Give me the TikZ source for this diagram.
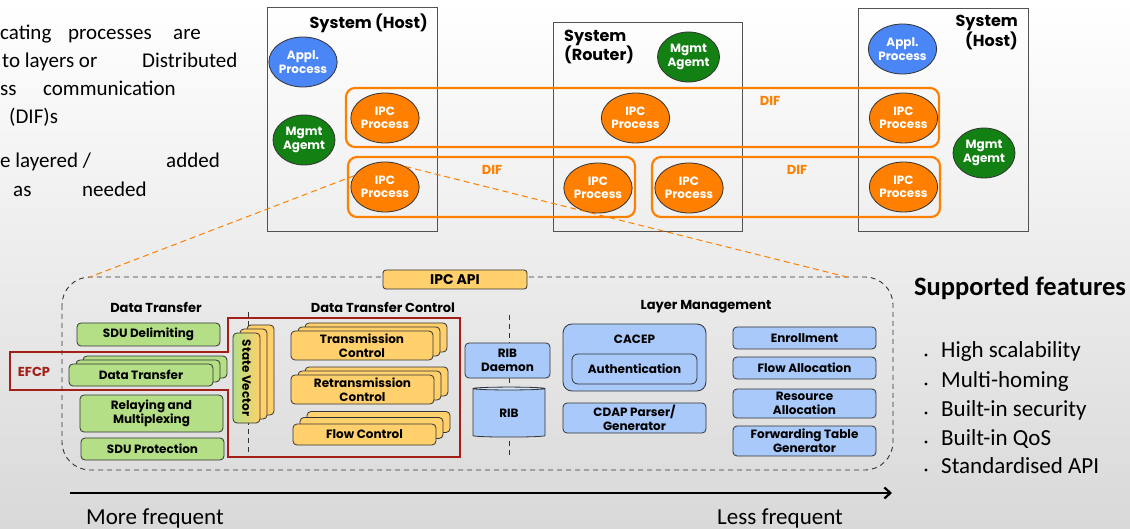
\documentclass[tikz,border=0pt]{standalone}
\usepackage{fontspec}
\setmainfont{Carlito}
\newfontfamily\gothic{Poppins}
\usetikzlibrary{shapes.geometric,arrows.meta}

\definecolor{ipcorange}{HTML}{FF7F00}
\definecolor{difor}{HTML}{FF8000}
\definecolor{applblue}{HTML}{4A86F5}
\definecolor{mgmtgreen}{HTML}{128012}
\definecolor{boxgreen}{HTML}{B4DF86}
\definecolor{boxyellow}{HTML}{FFD06B}
\definecolor{boxblue}{HTML}{A8C9FA}
\definecolor{boxbluelight}{HTML}{D2E3FC}
\definecolor{efcpred}{HTML}{A31F17}
\definecolor{edge}{HTML}{333333}

\begin{document}
\begin{tikzpicture}[x=1pt,y=-1pt,
  sysbox/.style={draw=edge!85, line width=1pt, inner sep=0},
  systitle/.style={font=\gothic\bfseries\fontsize{16}{18}\selectfont, inner sep=0},
  difbox/.style={draw=difor, line width=2.2pt, rounded corners=9pt, inner sep=0},
  diflabel/.style={text=difor, font=\gothic\bfseries\fontsize{13}{15}\selectfont, inner sep=0},
  proc/.style={ellipse, draw=edge, line width=0.8pt, minimum width=62, minimum height=50,
    inner sep=0, text=white, align=center, font=\gothic\bfseries\fontsize{12}{13.5}\selectfont},
  ipc/.style={proc, fill=ipcorange},
  appl/.style={proc, fill=applblue},
  mgmt/.style={proc, fill=mgmtgreen},
  zoomline/.style={draw=difor, line width=1pt, dash pattern=on 6pt off 4pt},
  sepline/.style={draw=edge, line width=0.9pt, dash pattern=on 5pt off 4pt},
  blk/.style={draw=edge, line width=0.8pt, rounded corners=4pt, inner sep=0, align=center,
    font=\gothic\bfseries\fontsize{12}{14}\selectfont},
  gbox/.style={blk, fill=boxgreen},
  ybox/.style={blk, fill=boxyellow},
  bbox/.style={blk, fill=boxblue},
  sectitle/.style={font=\gothic\bfseries\fontsize{13}{15}\selectfont, inner sep=0},
  efcp/.style={draw=efcpred, line width=2.2pt},
  lefttext/.style={font=\fontsize{21}{25}\selectfont, anchor=base west, inner sep=0},
  feat/.style={font=\fontsize{23}{28}\selectfont, anchor=base west, inner sep=0},
  freq/.style={font=\fontsize{23}{28}\selectfont, anchor=base west, inner sep=0}
]
% background
\shade[top color=white, bottom color=black!15] (0,0) rectangle (1130,529);
\useasboundingbox (0,0) rectangle (1130,529);

% introductory text on the left
\node[lefttext] (t1a) at (0,40) {cating};
\node[lefttext] (t1b) at (68,40) {processes};
\node[lefttext] (t1c) at (173,40) {are};
\node[lefttext] (t2a) at (2,68) {to layers or};
\node[lefttext] (t2b) at (142,68) {Distributed};
\node[lefttext] (t3a) at (0,96) {ss};
\node[lefttext] (t3b) at (43,96) {communication};
\node[lefttext] (t4a) at (9,124) {(DIF)s};
\node[lefttext] (t5a) at (0,168) {e layered /};
\node[lefttext] (t5b) at (166,168) {added};
\node[lefttext] (t6a) at (13,197) {as};
\node[lefttext] (t6b) at (82,197) {needed};

% systems
\node[sysbox, minimum width=170, minimum height=224] (hostL) at (352,120) {};
\node[sysbox, minimum width=189, minimum height=209] (router) at (647.5,127.5) {};
\node[sysbox, minimum width=170, minimum height=223] (hostR) at (943,120.5) {};
\node[systitle, anchor=east] (hostLt) at (428,23) {System (Host)};
\node[systitle, anchor=west, align=left] (routert) at (564,47) {System\\(Router)};
\node[systitle, anchor=east, align=right] (hostRt) at (1018,32.5) {System\\(Host)};

% DIFs
\node[difbox, minimum width=593, minimum height=59] (difTop) at (642.5,117.5) {};
\node[difbox, minimum width=287, minimum height=60] (difL) at (491.5,187) {};
\node[difbox, minimum width=288, minimum height=60] (difR) at (796,187) {};
\node[diflabel] (difTopt) at (770,101) {DIF};
\node[diflabel] (difLt) at (492,170) {DIF};
\node[diflabel] (difRt) at (797,170) {DIF};

% processes
\node[appl] (applL) at (303,62) {Appl.\\Process};
\node[mgmt] (mgmtL) at (304,140) {Mgmt\\Agemt};
\node[ipc] (ipcL1) at (385,118) {IPC\\Process};
\node[ipc] (ipcL2) at (385,187) {IPC\\Process};
\node[mgmt] (mgmtRt) at (688.5,57) {Mgmt\\Agemt};
\node[ipc] (ipcRt1) at (635.5,118) {IPC\\Process};
\node[ipc] (ipcRt2) at (598,188) {IPC\\Process};
\node[ipc] (ipcRt3) at (689,188) {IPC\\Process};
\node[appl] (applR) at (902.5,49) {Appl.\\Process};
\node[ipc] (ipcR1) at (903.5,118) {IPC\\Process};
\node[ipc] (ipcR2) at (903.5,187) {IPC\\Process};
\node[mgmt] (mgmtR) at (984,153) {Mgmt\\Agemt};

% IPC process internals
\draw[draw=edge, line width=0.9pt, dash pattern=on 5pt off 4pt, rounded corners=28pt]
  (62,277) rectangle (893,470);
\coordinate (zl) at (90,277);
\coordinate (zr) at (847,277);
\draw[zoomline] (ipcL2.160) -- (zl);
\draw[zoomline] (ipcL2.45) -- (zr);

\node[ybox, minimum width=144, minimum height=19, rounded corners=3pt,
  font=\gothic\bfseries\fontsize{14}{16}\selectfont] (api) at (455,279.5) {IPC API};

\node[sectitle] (dtt) at (156,307) {Data Transfer};
\node[sectitle] (dtct) at (383,307) {Data Transfer Control};
\node[sectitle] (lmt) at (706,307) {Layer Management};

\coordinate (s1a) at (248,312);
\coordinate (s1b) at (248,455);
\coordinate (s2a) at (509,315);
\coordinate (s2b) at (509,458);
\draw[sepline] (s1a) -- (s1b);
\draw[sepline] (s2a) -- (s2b);

% data transfer
\node[gbox, minimum width=143, minimum height=23] (sdudel) at (148.5,334.5) {SDU Delimiting};
\node[gbox, minimum width=144, minimum height=22] (dt3) at (155,367) {};
\node[gbox, minimum width=144, minimum height=22] (dt2) at (148,371) {};
\node[gbox, minimum width=144, minimum height=22] (dt1) at (141,375) {Data Transfer};
\node[gbox, minimum width=143, minimum height=37] (relay) at (151.5,413.5) {Relaying and\\Multiplexing};
\node[gbox, minimum width=143, minimum height=22] (sduprot) at (152.5,449) {SDU Protection};

% data transfer control
\node[ybox, minimum width=27, minimum height=90] (sv3) at (260.5,370) {};
\node[ybox, minimum width=27, minimum height=90] (sv2) at (253.5,374) {};
\node[blk, left color=boxgreen, right color=boxyellow, minimum width=27, minimum height=90] (sv1) at (246.5,378) {};
\node[rotate=-90, inner sep=0, font=\gothic\bfseries\fontsize{12}{14}\selectfont] (svt) at (sv1) {State Vector};

\node[ybox, minimum width=142, minimum height=29] (tc3) at (376,337.5) {};
\node[ybox, minimum width=142, minimum height=29] (tc2) at (369,341.5) {};
\node[ybox, minimum width=142, minimum height=29] (tc1) at (362,345.5) {Transmission\\Control};
\node[ybox, minimum width=143, minimum height=29] (rc3) at (376.5,381.5) {};
\node[ybox, minimum width=143, minimum height=29] (rc2) at (369.5,385.5) {};
\node[ybox, minimum width=143, minimum height=29] (rc1) at (362.5,389.5) {Retransmission\\Control};
\node[ybox, minimum width=143, minimum height=21] (fc3) at (378.5,422) {};
\node[ybox, minimum width=143, minimum height=21] (fc2) at (371.5,428) {};
\node[ybox, minimum width=143, minimum height=21] (fc1) at (364.5,434.5) {Flow Control};

\node[bbox, minimum width=85, minimum height=35] (ribd) at (507.5,360.5) {RIB\\Daemon};
\node[cylinder, shape border rotate=90, aspect=0.15, draw=edge, line width=0.8pt,
  cylinder uses custom fill, cylinder body fill=boxblue, cylinder end fill=boxbluelight,
  minimum width=72, minimum height=50, inner sep=0,
  font=\gothic\bfseries\fontsize{12}{14}\selectfont] (rib) at (509,413) {RIB};

% layer management
\node[bbox, rounded corners=9pt, minimum width=143, minimum height=67] (cacep) at (634.5,357.5) {};
\node[inner sep=0, font=\gothic\bfseries\fontsize{12}{14}\selectfont] (cacept) at (634.5,339) {CACEP};
\node[bbox, rounded corners=6pt, minimum width=125, minimum height=30] (auth) at (634.5,369) {Authentication};
\node[bbox, minimum width=143, minimum height=30] (cdap) at (634.5,418) {CDAP Parser/\\Generator};
\node[bbox, minimum width=143, minimum height=22] (enroll) at (804.5,338) {Enrollment};
\node[bbox, minimum width=143, minimum height=22] (falloc) at (804.5,368) {Flow Allocation};
\node[bbox, minimum width=143, minimum height=29] (ralloc) at (804.5,403.5) {Resource\\Allocation};
\node[bbox, minimum width=143, minimum height=30] (fwd) at (804.5,441) {Forwarding Table\\Generator};

% EFCP outline
\draw[efcp] (10,352) -- (228,352) -- (228,318) -- (460,318) -- (460,457)
  -- (228,457) -- (228,390) -- (10,390) -- cycle;
\node[text=efcpred, inner sep=0, font=\gothic\bfseries\fontsize{13}{15}\selectfont] (efcpt) at (34,372) {EFCP};

% supported features
\node[anchor=base west, inner sep=0, font=\bfseries\fontsize{26.5}{30}\selectfont] (sf) at (914,296) {Supported features};
\foreach \n/\yy/\txt in {f1/358/High scalability, f2/387/Multi-homing, f3/416/Built-in security, f4/445/Built-in QoS, f5/473/Standardised API}{
  \fill (926,\yy-3) circle (1.6);
  \node[feat] (\n) at (941,\yy) {\txt};
}

% frequency axis
\coordinate (axs) at (70,493);
\coordinate (axe) at (892,493);
\draw[line width=2.2pt, -{Straight Barb[length=6pt,width=11pt]}] (axs) -- (axe);
\node[freq] (more) at (86,524) {More frequent};
\node[freq] (less) at (717,524) {Less frequent};
\end{tikzpicture}
\end{document}
